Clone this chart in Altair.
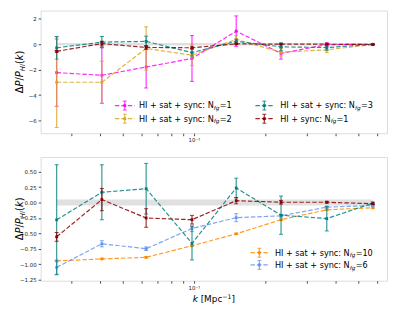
import altair as alt
import pandas as pd

# ---------------- data ----------------
k_vals = [0.0261, 0.0406, 0.0626, 0.098, 0.151, 0.234, 0.366, 0.574]

# top panel
mag_y = [-2.23, -2.44, -1.79, -1.12, 1.03, -0.72, -0.03, 0.0]
mag_err = [2.65, 2.2, 1.65, 1.8, 1.2, 0.45, 0.15, 0.04]
gold_y = [-2.99, -2.99, -0.33, -0.86, 0.38, -0.62, -0.44, -0.02]
gold_err = [3.56, 1.66, 1.7, 0.8, 0.3, 0.3, 0.22, 0.03]
teal_y = [-0.28, 0.166, 0.224, -0.66, 0.235, -0.205, -0.26, -0.01]
teal_err = [0.89, 0.445, 0.41, 0.27, 0.16, 0.31, 0.2, 0.02]
red_y = [-0.555, 0.048, -0.25, -0.278, 0.03, 0.005, 0.005, -0.02]
red_err = [0.07, 0.18, 0.15, 0.07, 0.05, 0.03, 0.015, 0.01]
# bottom panel extra series
o10_y = [-0.945, -0.913, -0.887, -0.70, -0.507, -0.278, -0.117, -0.085]
o10_err = [0.012, 0.01, 0.01, 0.01, 0.01, 0.01, 0.01, 0.01]
b6_y = [-1.05, -0.668, -0.748, -0.42, -0.245, -0.215, -0.075, -0.048]
b6_err = [0.11, 0.05, 0.03, 0.05, 0.065, 0.02, 0.01, 0.01]

band_top = [-0.1, 0.1]
band_bot = [-0.05, 0.05]

x_ticks = [0.03, 0.04, 0.05, 0.06, 0.07, 0.08, 0.09, 0.1, 0.2, 0.3, 0.4, 0.5, 0.6]
y_ticks_top = [-6, -4, -2, 0, 2]
y_ticks_bot = [-1.25, -1.0, -0.75, -0.5, -0.25, 0.0, 0.25, 0.5]

# ---------------- style / layout ----------------
FONT = "DejaVu Sans"
W_PANEL = 350
H_TOP = 124
H_BOT = 125
TICK_FS = 5.5
LEG_FS = 8.2
TITLE_FS = 10
AX_COLOR = "#222222"

# DejaVu Sans advance widths (em)
W = {'H': .752, 'I': .295, ' ': .318, '+': .838, 's': .521, 'a': .613, 't': .392,
     'y': .592, 'n': .634, 'c': .550, ':': .337, 'N': .748, '=': .838, '0': .636,
     '1': .636, '2': .636, '3': .636, '6': .636, 'f': .352, 'g': .635, 'k': .579,
     '[': .390, ']': .390, 'M': .863, 'p': .635, '−': .838, 'Δ': .684, 'P': .603,
     '/': .337, '(': .390, ')': .390}


def tw(s, fs):
    return sum(W.get(c, 0.6) for c in s) * fs


one = pd.DataFrame({'o': [0]})

xscale = alt.Scale(type='log', domain=[0.02232, 0.6596], nice=False)
xaxis = alt.Axis(values=x_ticks, labelExpr="abs(datum.value - 0.1) < 0.001 ? '10⁻¹' : ''",
                 tickSize=2.5, labelFontSize=TICK_FS, labelFont=FONT, grid=False, domain=False,
                 title=None, labelPadding=2, tickColor=AX_COLOR, labelColor=AX_COLOR,
                 labelOverlap=False, labelFlush=False, tickWidth=0.8)


def yaxis(vals, fmt):
    return alt.Axis(values=vals, format=fmt, tickSize=2.5, labelFontSize=TICK_FS, labelFont=FONT,
                    grid=False, domain=False, title=None, labelPadding=2, tickColor=AX_COLOR,
                    labelColor=AX_COLOR, labelOverlap=False, tickWidth=0.8)


def series(yv, ev, color, ys, ya):
    df = pd.DataFrame({'k': k_vals, 'v': yv,
                       'lo': [a - b for a, b in zip(yv, ev)],
                       'hi': [a + b for a, b in zip(yv, ev)]})
    base = alt.Chart(df)
    x = alt.X('k:Q', scale=xscale, axis=xaxis)
    line = base.mark_line(color=color, strokeDash=[4.5, 2], strokeWidth=1.2, opacity=0.85).encode(
        x=x, y=alt.Y('v:Q', scale=ys, axis=ya))
    bar = base.mark_rule(color=color, strokeWidth=1.2, opacity=0.8).encode(
        x=x, y=alt.Y('lo:Q', scale=ys, axis=ya), y2='hi:Q')
    cap1 = base.mark_tick(color=color, orient='horizontal', size=4, thickness=1, opacity=0.8).encode(
        x=x, y=alt.Y('lo:Q', scale=ys, axis=ya))
    cap2 = base.mark_tick(color=color, orient='horizontal', size=4, thickness=1, opacity=0.8).encode(
        x=x, y=alt.Y('hi:Q', scale=ys, axis=ya))
    pt = base.mark_point(shape='square', filled=True, size=8, color=color, opacity=1).encode(
        x=x, y=alt.Y('v:Q', scale=ys, axis=ya))
    return [line, bar, cap1, cap2, pt]


def band(b, ys, ya):
    df = pd.DataFrame({'k0': [k_vals[0]], 'k1': [k_vals[-1]], 'b0': [b[0]], 'b1': [b[1]]})
    return alt.Chart(df).mark_rect(color='#d3d3d3', opacity=0.7).encode(
        x=alt.X('k0:Q', scale=xscale, axis=xaxis), x2='k1:Q',
        y=alt.Y('b0:Q', scale=ys, axis=ya), y2='b1:Q')


def txt(s, x, y, fs, italic=False, angle=0, color='black'):
    return alt.Chart(one).mark_text(text=s, font=FONT, fontSize=fs,
                                    fontStyle='italic' if italic else 'normal',
                                    angle=angle, align='left', baseline='alphabetic',
                                    color=color).encode(x=alt.value(x), y=alt.value(y))


def legend_entry(x0, x1, xt, yc, color, pre, post):
    xm = (x0 + x1) / 2
    out = [
        alt.Chart(one).mark_rule(color=color, strokeDash=[4.5, 2], strokeWidth=1.2, opacity=0.85).encode(
            x=alt.value(x0), x2=alt.value(x1), y=alt.value(yc)),
        alt.Chart(one).mark_rule(color=color, strokeWidth=1.2, opacity=0.8).encode(
            x=alt.value(xm), y=alt.value(yc - 4.5), y2=alt.value(yc + 4.5)),
        alt.Chart(one).mark_rule(color=color, strokeWidth=1, opacity=0.8).encode(
            x=alt.value(xm - 2), x2=alt.value(xm + 2), y=alt.value(yc - 4.5)),
        alt.Chart(one).mark_rule(color=color, strokeWidth=1, opacity=0.8).encode(
            x=alt.value(xm - 2), x2=alt.value(xm + 2), y=alt.value(yc + 4.5)),
        alt.Chart(one).mark_point(shape='square', filled=True, size=8, color=color, opacity=1).encode(
            x=alt.value(xm), y=alt.value(yc)),
    ]
    base_y = yc + 0.36 * LEG_FS
    sub_fs = LEG_FS * 0.7
    out.append(txt(pre, xt, base_y, LEG_FS))
    xs = xt + tw(pre, LEG_FS)
    out.append(txt('fg', xs, base_y + 1.8, sub_fs, italic=True))
    xs += tw('fg', sub_fs) + 0.3
    out.append(txt(post, xs, base_y, LEG_FS))
    return out


def y_title(h):
    fs = TITLE_FS
    pieces = [('Δ', False, False), ('P', True, False), ('/', False, False), ('P', True, False),
              ('HI', True, True), ('(', False, False), ('k', True, False), (')', False, False)]
    total = 0
    for s, it, sub in pieces:
        total += tw(s, fs * 0.7 if sub else fs)
    xb = -17.5
    y = h / 2 + total / 2
    out = []
    for s, it, sub in pieces:
        f = fs * 0.7 if sub else fs
        out.append(txt(s, xb + (2.0 if sub else 0), y, f, italic=it, angle=270))
        y -= tw(s, f)
    return out


def x_title(h):
    fs = 9
    sup = fs * 0.7
    total = tw('k', fs) + tw(' [Mpc', fs) + tw('−1', sup) + tw(']', fs)
    x = W_PANEL / 2 - total / 2
    yb = h + 22
    out = [txt('k', x, yb, fs, italic=True)]
    x += tw('k', fs) + tw(' ', fs)
    out.append(txt('[Mpc', x, yb, fs))
    x += tw('[Mpc', fs)
    out.append(txt('−1', x, yb - 3.5, sup))
    x += tw('−1', sup)
    out.append(txt(']', x, yb, fs))
    return out


# ---------------- top panel ----------------
ys_top = alt.Scale(domain=[-7.0, 2.65], nice=False, zero=False)
ya_top = yaxis(y_ticks_top, 'd')
top_layers = [band(band_top, ys_top, ya_top)]
top_layers += series(mag_y, mag_err, '#ff00ff', ys_top, ya_top)
top_layers += series(gold_y, gold_err, '#daa520', ys_top, ya_top)
top_layers += series(teal_y, teal_err, '#008080', ys_top, ya_top)
top_layers += series(red_y, red_err, '#8b0000', ys_top, ya_top)
top_layers += legend_entry(75, 95, 99.3, 96, '#ff00ff', 'HI + sat + sync: N', '=1')
top_layers += legend_entry(75, 95, 99.3, 109.3, '#daa520', 'HI + sat + sync: N', '=2')
top_layers += legend_entry(217, 235, 242, 96, '#008080', 'HI + sat + sync: N', '=3')
top_layers += legend_entry(217, 235, 242, 109.3, '#8b0000', 'HI + sync: N', '=1')
top_layers += y_title(H_TOP)
top = alt.layer(*top_layers).properties(width=W_PANEL, height=H_TOP)

# ---------------- bottom panel ----------------
ys_bot = alt.Scale(domain=[-1.266, 0.737], nice=False, zero=False)
ya_bot = yaxis(y_ticks_bot, '.2f')
bot_layers = [band(band_bot, ys_bot, ya_bot)]
bot_layers += series(o10_y, o10_err, '#ff8c00', ys_bot, ya_bot)
bot_layers += series(b6_y, b6_err, '#6495ed', ys_bot, ya_bot)
bot_layers += series(teal_y, teal_err, '#008080', ys_bot, ya_bot)
bot_layers += series(red_y, red_err, '#8b0000', ys_bot, ya_bot)
bot_layers += legend_entry(212, 230, 236.7, 96.7, '#ff8c00', 'HI + sat + sync: N', '=10')
bot_layers += legend_entry(212, 230, 236.7, 109, '#6495ed', 'HI + sat + sync: N', '=6')
bot_layers += y_title(H_BOT)
bot_layers += x_title(H_BOT)
bottom = alt.layer(*bot_layers).properties(width=W_PANEL, height=H_BOT)

chart = alt.vconcat(top, bottom, spacing=24, bounds='flush').properties(
    padding={'left': 6, 'top': 0, 'right': 2, 'bottom': 2}
).configure_view(stroke=AX_COLOR, strokeWidth=0.9).configure(background='white')

chart.save("out.html", embed_options={"renderer": "svg", "actions": False})
